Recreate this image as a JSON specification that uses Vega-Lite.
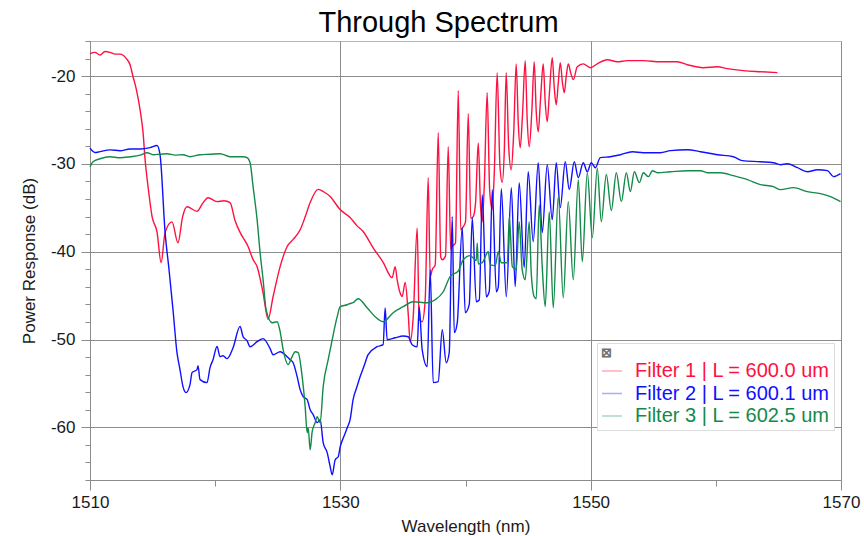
{
  "$schema": "https://vega.github.io/schema/vega-lite/v6.json",
  "width": 751,
  "height": 439,
  "autosize": {"type": "none"},
  "padding": {"left": 90, "top": 41, "right": 23, "bottom": 56},
  "background": "white",
  "title": {"text": "Through Spectrum", "font": "Liberation Sans", "fontSize": 29, "fontWeight": "normal", "color": "#000000", "anchor": "middle", "dx": -27, "dy": 10, "offset": 4},
  "config": {"view": {"stroke": "#b5b5b5", "strokeWidth": 1}, "font": "Liberation Sans"},
  "datasets": {
    "spec": [
      {"f": "Filter 1 | L = 600.0 um", "x": 1510.0, "y": -17.45},
      {"f": "Filter 1 | L = 600.0 um", "x": 1510.4, "y": -17.3},
      {"f": "Filter 1 | L = 600.0 um", "x": 1510.8, "y": -17.6},
      {"f": "Filter 1 | L = 600.0 um", "x": 1511.2, "y": -17.2},
      {"f": "Filter 1 | L = 600.0 um", "x": 1511.6, "y": -17.3},
      {"f": "Filter 1 | L = 600.0 um", "x": 1512.0, "y": -17.5},
      {"f": "Filter 1 | L = 600.0 um", "x": 1512.4, "y": -17.5},
      {"f": "Filter 1 | L = 600.0 um", "x": 1512.9, "y": -18.0},
      {"f": "Filter 1 | L = 600.0 um", "x": 1513.2, "y": -18.7},
      {"f": "Filter 1 | L = 600.0 um", "x": 1513.44, "y": -20.07},
      {"f": "Filter 1 | L = 600.0 um", "x": 1513.7, "y": -21.5},
      {"f": "Filter 1 | L = 600.0 um", "x": 1514.0, "y": -23.82},
      {"f": "Filter 1 | L = 600.0 um", "x": 1514.24, "y": -26.44},
      {"f": "Filter 1 | L = 600.0 um", "x": 1514.4, "y": -29.5},
      {"f": "Filter 1 | L = 600.0 um", "x": 1514.64, "y": -32.6},
      {"f": "Filter 1 | L = 600.0 um", "x": 1514.96, "y": -36.0},
      {"f": "Filter 1 | L = 600.0 um", "x": 1515.36, "y": -37.8},
      {"f": "Filter 1 | L = 600.0 um", "x": 1515.68, "y": -41.25},
      {"f": "Filter 1 | L = 600.0 um", "x": 1516.0, "y": -37.8},
      {"f": "Filter 1 | L = 600.0 um", "x": 1516.55, "y": -36.6},
      {"f": "Filter 1 | L = 600.0 um", "x": 1517.03, "y": -38.97},
      {"f": "Filter 1 | L = 600.0 um", "x": 1517.4, "y": -36.0},
      {"f": "Filter 1 | L = 600.0 um", "x": 1517.75, "y": -34.87},
      {"f": "Filter 1 | L = 600.0 um", "x": 1518.55, "y": -35.4},
      {"f": "Filter 1 | L = 600.0 um", "x": 1519.0, "y": -34.5},
      {"f": "Filter 1 | L = 600.0 um", "x": 1519.43, "y": -33.85},
      {"f": "Filter 1 | L = 600.0 um", "x": 1520.15, "y": -34.3},
      {"f": "Filter 1 | L = 600.0 um", "x": 1520.7, "y": -34.2},
      {"f": "Filter 1 | L = 600.0 um", "x": 1521.19, "y": -34.4},
      {"f": "Filter 1 | L = 600.0 um", "x": 1521.6, "y": -36.5},
      {"f": "Filter 1 | L = 600.0 um", "x": 1521.99, "y": -37.8},
      {"f": "Filter 1 | L = 600.0 um", "x": 1522.63, "y": -39.4},
      {"f": "Filter 1 | L = 600.0 um", "x": 1523.03, "y": -40.9},
      {"f": "Filter 1 | L = 600.0 um", "x": 1523.35, "y": -41.7},
      {"f": "Filter 1 | L = 600.0 um", "x": 1523.83, "y": -44.7},
      {"f": "Filter 1 | L = 600.0 um", "x": 1524.23, "y": -47.7},
      {"f": "Filter 1 | L = 600.0 um", "x": 1524.63, "y": -45.1},
      {"f": "Filter 1 | L = 600.0 um", "x": 1525.19, "y": -41.7},
      {"f": "Filter 1 | L = 600.0 um", "x": 1525.75, "y": -39.4},
      {"f": "Filter 1 | L = 600.0 um", "x": 1526.23, "y": -38.6},
      {"f": "Filter 1 | L = 600.0 um", "x": 1526.79, "y": -37.5},
      {"f": "Filter 1 | L = 600.0 um", "x": 1527.2, "y": -36.0},
      {"f": "Filter 1 | L = 600.0 um", "x": 1527.59, "y": -34.4},
      {"f": "Filter 1 | L = 600.0 um", "x": 1528.23, "y": -32.9},
      {"f": "Filter 1 | L = 600.0 um", "x": 1528.7, "y": -33.2},
      {"f": "Filter 1 | L = 600.0 um", "x": 1529.18, "y": -33.7},
      {"f": "Filter 1 | L = 600.0 um", "x": 1529.98, "y": -35.2},
      {"f": "Filter 1 | L = 600.0 um", "x": 1530.78, "y": -36.1},
      {"f": "Filter 1 | L = 600.0 um", "x": 1531.3, "y": -37.0},
      {"f": "Filter 1 | L = 600.0 um", "x": 1531.82, "y": -37.7},
      {"f": "Filter 1 | L = 600.0 um", "x": 1532.62, "y": -39.55},
      {"f": "Filter 1 | L = 600.0 um", "x": 1533.42, "y": -41.2},
      {"f": "Filter 1 | L = 600.0 um", "x": 1534.14, "y": -42.96},
      {"f": "Filter 1 | L = 600.0 um", "x": 1534.38, "y": -41.7},
      {"f": "Filter 1 | L = 600.0 um", "x": 1534.54, "y": -43.2},
      {"f": "Filter 1 | L = 600.0 um", "x": 1534.78, "y": -44.7},
      {"f": "Filter 1 | L = 600.0 um", "x": 1534.94, "y": -45.1},
      {"f": "Filter 1 | L = 600.0 um", "x": 1535.18, "y": -43.5},
      {"f": "Filter 1 | L = 600.0 um", "x": 1535.42, "y": -47.0},
      {"f": "Filter 1 | L = 600.0 um", "x": 1535.58, "y": -50.25},
      {"f": "Filter 1 | L = 600.0 um", "x": 1535.82, "y": -47.5},
      {"f": "Filter 1 | L = 600.0 um", "x": 1536.14, "y": -37.3},
      {"f": "Filter 1 | L = 600.0 um", "x": 1536.3, "y": -47.7},
      {"f": "Filter 1 | L = 600.0 um", "x": 1536.54, "y": -47.97},
      {"f": "Filter 1 | L = 600.0 um", "x": 1536.78, "y": -45.46},
      {"f": "Filter 1 | L = 600.0 um", "x": 1537.02, "y": -31.57},
      {"f": "Filter 1 | L = 600.0 um", "x": 1537.18, "y": -42.85},
      {"f": "Filter 1 | L = 600.0 um", "x": 1537.34, "y": -42.05},
      {"f": "Filter 1 | L = 600.0 um", "x": 1537.58, "y": -41.5},
      {"f": "Filter 1 | L = 600.0 um", "x": 1537.82, "y": -26.44},
      {"f": "Filter 1 | L = 600.0 um", "x": 1538.02, "y": -40.6},
      {"f": "Filter 1 | L = 600.0 um", "x": 1538.14, "y": -40.91},
      {"f": "Filter 1 | L = 600.0 um", "x": 1538.4, "y": -40.5},
      {"f": "Filter 1 | L = 600.0 um", "x": 1538.62, "y": -28.04},
      {"f": "Filter 1 | L = 600.0 um", "x": 1538.82, "y": -39.8},
      {"f": "Filter 1 | L = 600.0 um", "x": 1538.94, "y": -39.4},
      {"f": "Filter 1 | L = 600.0 um", "x": 1539.2, "y": -39.0},
      {"f": "Filter 1 | L = 600.0 um", "x": 1539.42, "y": -21.66},
      {"f": "Filter 1 | L = 600.0 um", "x": 1539.62, "y": -37.5},
      {"f": "Filter 1 | L = 600.0 um", "x": 1539.82, "y": -37.15},
      {"f": "Filter 1 | L = 600.0 um", "x": 1540.0, "y": -36.6},
      {"f": "Filter 1 | L = 600.0 um", "x": 1540.22, "y": -24.28},
      {"f": "Filter 1 | L = 600.0 um", "x": 1540.42, "y": -36.2},
      {"f": "Filter 1 | L = 600.0 um", "x": 1540.62, "y": -36.0},
      {"f": "Filter 1 | L = 600.0 um", "x": 1540.8, "y": -34.5},
      {"f": "Filter 1 | L = 600.0 um", "x": 1541.02, "y": -27.6},
      {"f": "Filter 1 | L = 600.0 um", "x": 1541.2, "y": -34.8},
      {"f": "Filter 1 | L = 600.0 um", "x": 1541.33, "y": -36.6},
      {"f": "Filter 1 | L = 600.0 um", "x": 1541.5, "y": -32.5},
      {"f": "Filter 1 | L = 600.0 um", "x": 1541.73, "y": -21.9},
      {"f": "Filter 1 | L = 600.0 um", "x": 1541.93, "y": -33.0},
      {"f": "Filter 1 | L = 600.0 um", "x": 1542.13, "y": -35.2},
      {"f": "Filter 1 | L = 600.0 um", "x": 1542.3, "y": -31.0},
      {"f": "Filter 1 | L = 600.0 um", "x": 1542.53, "y": -19.6},
      {"f": "Filter 1 | L = 600.0 um", "x": 1542.75, "y": -30.2},
      {"f": "Filter 1 | L = 600.0 um", "x": 1542.93, "y": -32.1},
      {"f": "Filter 1 | L = 600.0 um", "x": 1543.1, "y": -28.5},
      {"f": "Filter 1 | L = 600.0 um", "x": 1543.25, "y": -19.6},
      {"f": "Filter 1 | L = 600.0 um", "x": 1543.45, "y": -28.0},
      {"f": "Filter 1 | L = 600.0 um", "x": 1543.65, "y": -30.66},
      {"f": "Filter 1 | L = 600.0 um", "x": 1543.85, "y": -26.5},
      {"f": "Filter 1 | L = 600.0 um", "x": 1544.05, "y": -18.6},
      {"f": "Filter 1 | L = 600.0 um", "x": 1544.22, "y": -25.5},
      {"f": "Filter 1 | L = 600.0 um", "x": 1544.37, "y": -28.15},
      {"f": "Filter 1 | L = 600.0 um", "x": 1544.55, "y": -24.5},
      {"f": "Filter 1 | L = 600.0 um", "x": 1544.77, "y": -18.24},
      {"f": "Filter 1 | L = 600.0 um", "x": 1544.93, "y": -25.0},
      {"f": "Filter 1 | L = 600.0 um", "x": 1545.09, "y": -28.04},
      {"f": "Filter 1 | L = 600.0 um", "x": 1545.3, "y": -24.0},
      {"f": "Filter 1 | L = 600.0 um", "x": 1545.49, "y": -18.36},
      {"f": "Filter 1 | L = 600.0 um", "x": 1545.65, "y": -24.0},
      {"f": "Filter 1 | L = 600.0 um", "x": 1545.81, "y": -26.33},
      {"f": "Filter 1 | L = 600.0 um", "x": 1546.0, "y": -22.5},
      {"f": "Filter 1 | L = 600.0 um", "x": 1546.21, "y": -18.6},
      {"f": "Filter 1 | L = 600.0 um", "x": 1546.37, "y": -23.0},
      {"f": "Filter 1 | L = 600.0 um", "x": 1546.53, "y": -25.19},
      {"f": "Filter 1 | L = 600.0 um", "x": 1546.7, "y": -22.0},
      {"f": "Filter 1 | L = 600.0 um", "x": 1546.93, "y": -17.9},
      {"f": "Filter 1 | L = 600.0 um", "x": 1547.1, "y": -21.5},
      {"f": "Filter 1 | L = 600.0 um", "x": 1547.25, "y": -23.26},
      {"f": "Filter 1 | L = 600.0 um", "x": 1547.4, "y": -21.0},
      {"f": "Filter 1 | L = 600.0 um", "x": 1547.57, "y": -18.47},
      {"f": "Filter 1 | L = 600.0 um", "x": 1547.75, "y": -20.8},
      {"f": "Filter 1 | L = 600.0 um", "x": 1547.89, "y": -21.9},
      {"f": "Filter 1 | L = 600.0 um", "x": 1548.05, "y": -20.0},
      {"f": "Filter 1 | L = 600.0 um", "x": 1548.21, "y": -18.6},
      {"f": "Filter 1 | L = 600.0 um", "x": 1548.4, "y": -19.6},
      {"f": "Filter 1 | L = 600.0 um", "x": 1548.61, "y": -20.4},
      {"f": "Filter 1 | L = 600.0 um", "x": 1548.93, "y": -18.93},
      {"f": "Filter 1 | L = 600.0 um", "x": 1549.41, "y": -18.6},
      {"f": "Filter 1 | L = 600.0 um", "x": 1549.97, "y": -19.04},
      {"f": "Filter 1 | L = 600.0 um", "x": 1550.53, "y": -18.6},
      {"f": "Filter 1 | L = 600.0 um", "x": 1551.33, "y": -18.13},
      {"f": "Filter 1 | L = 600.0 um", "x": 1552.13, "y": -18.36},
      {"f": "Filter 1 | L = 600.0 um", "x": 1552.93, "y": -18.24},
      {"f": "Filter 1 | L = 600.0 um", "x": 1554.2, "y": -18.24},
      {"f": "Filter 1 | L = 600.0 um", "x": 1555.56, "y": -18.36},
      {"f": "Filter 1 | L = 600.0 um", "x": 1556.92, "y": -18.36},
      {"f": "Filter 1 | L = 600.0 um", "x": 1557.72, "y": -18.7},
      {"f": "Filter 1 | L = 600.0 um", "x": 1559.0, "y": -19.04},
      {"f": "Filter 1 | L = 600.0 um", "x": 1560.12, "y": -18.93},
      {"f": "Filter 1 | L = 600.0 um", "x": 1560.92, "y": -19.15},
      {"f": "Filter 1 | L = 600.0 um", "x": 1562.2, "y": -19.38},
      {"f": "Filter 1 | L = 600.0 um", "x": 1563.56, "y": -19.5},
      {"f": "Filter 1 | L = 600.0 um", "x": 1564.92, "y": -19.6},

      {"f": "Filter 2 | L = 600.1 um", "x": 1510.0, "y": -28.2},
      {"f": "Filter 2 | L = 600.1 um", "x": 1510.4, "y": -28.7},
      {"f": "Filter 2 | L = 600.1 um", "x": 1510.8, "y": -28.6},
      {"f": "Filter 2 | L = 600.1 um", "x": 1511.6, "y": -28.4},
      {"f": "Filter 2 | L = 600.1 um", "x": 1512.4, "y": -28.5},
      {"f": "Filter 2 | L = 600.1 um", "x": 1513.2, "y": -28.3},
      {"f": "Filter 2 | L = 600.1 um", "x": 1514.0, "y": -28.3},
      {"f": "Filter 2 | L = 600.1 um", "x": 1514.8, "y": -28.15},
      {"f": "Filter 2 | L = 600.1 um", "x": 1515.36, "y": -27.9},
      {"f": "Filter 2 | L = 600.1 um", "x": 1515.6, "y": -29.0},
      {"f": "Filter 2 | L = 600.1 um", "x": 1516.0, "y": -37.8},
      {"f": "Filter 2 | L = 600.1 um", "x": 1516.31, "y": -42.0},
      {"f": "Filter 2 | L = 600.1 um", "x": 1516.63, "y": -46.6},
      {"f": "Filter 2 | L = 600.1 um", "x": 1516.95, "y": -51.5},
      {"f": "Filter 2 | L = 600.1 um", "x": 1517.19, "y": -53.43},
      {"f": "Filter 2 | L = 600.1 um", "x": 1517.43, "y": -55.37},
      {"f": "Filter 2 | L = 600.1 um", "x": 1517.67, "y": -56.05},
      {"f": "Filter 2 | L = 600.1 um", "x": 1517.99, "y": -55.14},
      {"f": "Filter 2 | L = 600.1 um", "x": 1518.15, "y": -53.77},
      {"f": "Filter 2 | L = 600.1 um", "x": 1518.55, "y": -53.43},
      {"f": "Filter 2 | L = 600.1 um", "x": 1518.63, "y": -52.98},
      {"f": "Filter 2 | L = 600.1 um", "x": 1518.79, "y": -54.57},
      {"f": "Filter 2 | L = 600.1 um", "x": 1519.35, "y": -54.91},
      {"f": "Filter 2 | L = 600.1 um", "x": 1519.59, "y": -53.2},
      {"f": "Filter 2 | L = 600.1 um", "x": 1519.83, "y": -52.3},
      {"f": "Filter 2 | L = 600.1 um", "x": 1520.15, "y": -50.8},
      {"f": "Filter 2 | L = 600.1 um", "x": 1520.39, "y": -51.95},
      {"f": "Filter 2 | L = 600.1 um", "x": 1520.63, "y": -51.84},
      {"f": "Filter 2 | L = 600.1 um", "x": 1520.95, "y": -52.18},
      {"f": "Filter 2 | L = 600.1 um", "x": 1521.43, "y": -50.93},
      {"f": "Filter 2 | L = 600.1 um", "x": 1521.99, "y": -48.5},
      {"f": "Filter 2 | L = 600.1 um", "x": 1522.23, "y": -49.68},
      {"f": "Filter 2 | L = 600.1 um", "x": 1522.55, "y": -50.13},
      {"f": "Filter 2 | L = 600.1 um", "x": 1522.79, "y": -50.82},
      {"f": "Filter 2 | L = 600.1 um", "x": 1523.35, "y": -50.25},
      {"f": "Filter 2 | L = 600.1 um", "x": 1523.83, "y": -49.9},
      {"f": "Filter 2 | L = 600.1 um", "x": 1524.39, "y": -51.04},
      {"f": "Filter 2 | L = 600.1 um", "x": 1524.63, "y": -51.73},
      {"f": "Filter 2 | L = 600.1 um", "x": 1525.19, "y": -51.39},
      {"f": "Filter 2 | L = 600.1 um", "x": 1525.75, "y": -51.95},
      {"f": "Filter 2 | L = 600.1 um", "x": 1525.99, "y": -52.3},
      {"f": "Filter 2 | L = 600.1 um", "x": 1526.23, "y": -52.64},
      {"f": "Filter 2 | L = 600.1 um", "x": 1526.55, "y": -54.23},
      {"f": "Filter 2 | L = 600.1 um", "x": 1526.79, "y": -55.71},
      {"f": "Filter 2 | L = 600.1 um", "x": 1527.03, "y": -56.51},
      {"f": "Filter 2 | L = 600.1 um", "x": 1527.35, "y": -56.85},
      {"f": "Filter 2 | L = 600.1 um", "x": 1527.59, "y": -57.99},
      {"f": "Filter 2 | L = 600.1 um", "x": 1527.83, "y": -58.56},
      {"f": "Filter 2 | L = 600.1 um", "x": 1528.15, "y": -59.47},
      {"f": "Filter 2 | L = 600.1 um", "x": 1528.39, "y": -59.13},
      {"f": "Filter 2 | L = 600.1 um", "x": 1528.63, "y": -61.75},
      {"f": "Filter 2 | L = 600.1 um", "x": 1528.95, "y": -62.89},
      {"f": "Filter 2 | L = 600.1 um", "x": 1529.19, "y": -64.49},
      {"f": "Filter 2 | L = 600.1 um", "x": 1529.35, "y": -65.4},
      {"f": "Filter 2 | L = 600.1 um", "x": 1529.59, "y": -63.69},
      {"f": "Filter 2 | L = 600.1 um", "x": 1529.83, "y": -63.35},
      {"f": "Filter 2 | L = 600.1 um", "x": 1529.99, "y": -62.21},
      {"f": "Filter 2 | L = 600.1 um", "x": 1530.3, "y": -61.0},
      {"f": "Filter 2 | L = 600.1 um", "x": 1530.55, "y": -60.04},
      {"f": "Filter 2 | L = 600.1 um", "x": 1530.78, "y": -59.13},
      {"f": "Filter 2 | L = 600.1 um", "x": 1531.02, "y": -56.85},
      {"f": "Filter 2 | L = 600.1 um", "x": 1531.3, "y": -55.5},
      {"f": "Filter 2 | L = 600.1 um", "x": 1531.58, "y": -54.23},
      {"f": "Filter 2 | L = 600.1 um", "x": 1531.9, "y": -53.0},
      {"f": "Filter 2 | L = 600.1 um", "x": 1532.22, "y": -51.73},
      {"f": "Filter 2 | L = 600.1 um", "x": 1532.94, "y": -50.82},
      {"f": "Filter 2 | L = 600.1 um", "x": 1533.42, "y": -50.59},
      {"f": "Filter 2 | L = 600.1 um", "x": 1533.58, "y": -46.4},
      {"f": "Filter 2 | L = 600.1 um", "x": 1533.74, "y": -50.02},
      {"f": "Filter 2 | L = 600.1 um", "x": 1534.38, "y": -49.8},
      {"f": "Filter 2 | L = 600.1 um", "x": 1535.02, "y": -49.6},
      {"f": "Filter 2 | L = 600.1 um", "x": 1535.42, "y": -49.68},
      {"f": "Filter 2 | L = 600.1 um", "x": 1535.74, "y": -50.59},
      {"f": "Filter 2 | L = 600.1 um", "x": 1536.14, "y": -50.82},
      {"f": "Filter 2 | L = 600.1 um", "x": 1536.3, "y": -46.3},
      {"f": "Filter 2 | L = 600.1 um", "x": 1536.54, "y": -51.16},
      {"f": "Filter 2 | L = 600.1 um", "x": 1536.94, "y": -53.09},
      {"f": "Filter 2 | L = 600.1 um", "x": 1537.18, "y": -42.05},
      {"f": "Filter 2 | L = 600.1 um", "x": 1537.42, "y": -54.91},
      {"f": "Filter 2 | L = 600.1 um", "x": 1537.82, "y": -54.8},
      {"f": "Filter 2 | L = 600.1 um", "x": 1538.14, "y": -48.88},
      {"f": "Filter 2 | L = 600.1 um", "x": 1538.46, "y": -52.64},
      {"f": "Filter 2 | L = 600.1 um", "x": 1538.7, "y": -51.5},
      {"f": "Filter 2 | L = 600.1 um", "x": 1538.94, "y": -36.0},
      {"f": "Filter 2 | L = 600.1 um", "x": 1539.1, "y": -49.22},
      {"f": "Filter 2 | L = 600.1 um", "x": 1539.34, "y": -48.1},
      {"f": "Filter 2 | L = 600.1 um", "x": 1539.74, "y": -37.26},
      {"f": "Filter 2 | L = 600.1 um", "x": 1539.98, "y": -46.95},
      {"f": "Filter 2 | L = 600.1 um", "x": 1540.3, "y": -46.0},
      {"f": "Filter 2 | L = 600.1 um", "x": 1540.54, "y": -36.12},
      {"f": "Filter 2 | L = 600.1 um", "x": 1540.86, "y": -45.69},
      {"f": "Filter 2 | L = 600.1 um", "x": 1541.1, "y": -45.5},
      {"f": "Filter 2 | L = 600.1 um", "x": 1541.34, "y": -33.5},
      {"f": "Filter 2 | L = 600.1 um", "x": 1541.66, "y": -45.13},
      {"f": "Filter 2 | L = 600.1 um", "x": 1541.9, "y": -44.5},
      {"f": "Filter 2 | L = 600.1 um", "x": 1542.14, "y": -32.93},
      {"f": "Filter 2 | L = 600.1 um", "x": 1542.46, "y": -44.56},
      {"f": "Filter 2 | L = 600.1 um", "x": 1542.62, "y": -44.0},
      {"f": "Filter 2 | L = 600.1 um", "x": 1542.86, "y": -32.82},
      {"f": "Filter 2 | L = 600.1 um", "x": 1543.26, "y": -45.13},
      {"f": "Filter 2 | L = 600.1 um", "x": 1543.66, "y": -32.71},
      {"f": "Filter 2 | L = 600.1 um", "x": 1543.97, "y": -43.98},
      {"f": "Filter 2 | L = 600.1 um", "x": 1544.29, "y": -32.13},
      {"f": "Filter 2 | L = 600.1 um", "x": 1544.69, "y": -41.82},
      {"f": "Filter 2 | L = 600.1 um", "x": 1545.01, "y": -30.89},
      {"f": "Filter 2 | L = 600.1 um", "x": 1545.41, "y": -38.86},
      {"f": "Filter 2 | L = 600.1 um", "x": 1545.81, "y": -29.86},
      {"f": "Filter 2 | L = 600.1 um", "x": 1546.13, "y": -37.83},
      {"f": "Filter 2 | L = 600.1 um", "x": 1546.53, "y": -30.09},
      {"f": "Filter 2 | L = 600.1 um", "x": 1546.93, "y": -36.35},
      {"f": "Filter 2 | L = 600.1 um", "x": 1547.25, "y": -29.86},
      {"f": "Filter 2 | L = 600.1 um", "x": 1547.57, "y": -34.98},
      {"f": "Filter 2 | L = 600.1 um", "x": 1547.97, "y": -29.75},
      {"f": "Filter 2 | L = 600.1 um", "x": 1548.29, "y": -32.93},
      {"f": "Filter 2 | L = 600.1 um", "x": 1548.69, "y": -29.75},
      {"f": "Filter 2 | L = 600.1 um", "x": 1549.01, "y": -31.57},
      {"f": "Filter 2 | L = 600.1 um", "x": 1549.41, "y": -29.86},
      {"f": "Filter 2 | L = 600.1 um", "x": 1549.73, "y": -30.89},
      {"f": "Filter 2 | L = 600.1 um", "x": 1550.05, "y": -29.86},
      {"f": "Filter 2 | L = 600.1 um", "x": 1550.37, "y": -30.43},
      {"f": "Filter 2 | L = 600.1 um", "x": 1550.77, "y": -29.29},
      {"f": "Filter 2 | L = 600.1 um", "x": 1551.57, "y": -29.18},
      {"f": "Filter 2 | L = 600.1 um", "x": 1552.37, "y": -28.95},
      {"f": "Filter 2 | L = 600.1 um", "x": 1553.33, "y": -28.61},
      {"f": "Filter 2 | L = 600.1 um", "x": 1554.21, "y": -28.72},
      {"f": "Filter 2 | L = 600.1 um", "x": 1555.57, "y": -28.72},
      {"f": "Filter 2 | L = 600.1 um", "x": 1556.37, "y": -28.49},
      {"f": "Filter 2 | L = 600.1 um", "x": 1557.73, "y": -28.38},
      {"f": "Filter 2 | L = 600.1 um", "x": 1558.77, "y": -28.61},
      {"f": "Filter 2 | L = 600.1 um", "x": 1560.12, "y": -28.95},
      {"f": "Filter 2 | L = 600.1 um", "x": 1561.4, "y": -29.18},
      {"f": "Filter 2 | L = 600.1 um", "x": 1562.12, "y": -29.63},
      {"f": "Filter 2 | L = 600.1 um", "x": 1563.56, "y": -29.75},
      {"f": "Filter 2 | L = 600.1 um", "x": 1564.6, "y": -29.86},
      {"f": "Filter 2 | L = 600.1 um", "x": 1565.16, "y": -30.09},
      {"f": "Filter 2 | L = 600.1 um", "x": 1565.72, "y": -29.98},
      {"f": "Filter 2 | L = 600.1 um", "x": 1566.52, "y": -30.43},
      {"f": "Filter 2 | L = 600.1 um", "x": 1567.32, "y": -30.89},
      {"f": "Filter 2 | L = 600.1 um", "x": 1568.12, "y": -30.66},
      {"f": "Filter 2 | L = 600.1 um", "x": 1568.92, "y": -30.77},
      {"f": "Filter 2 | L = 600.1 um", "x": 1569.4, "y": -31.45},
      {"f": "Filter 2 | L = 600.1 um", "x": 1569.96, "y": -31.11},

      {"f": "Filter 3 | L = 602.5 um", "x": 1510.0, "y": -30.32},
      {"f": "Filter 3 | L = 602.5 um", "x": 1510.24, "y": -29.75},
      {"f": "Filter 3 | L = 602.5 um", "x": 1510.8, "y": -29.41},
      {"f": "Filter 3 | L = 602.5 um", "x": 1511.6, "y": -29.18},
      {"f": "Filter 3 | L = 602.5 um", "x": 1512.4, "y": -29.3},
      {"f": "Filter 3 | L = 602.5 um", "x": 1513.2, "y": -29.18},
      {"f": "Filter 3 | L = 602.5 um", "x": 1514.0, "y": -29.0},
      {"f": "Filter 3 | L = 602.5 um", "x": 1514.56, "y": -28.72},
      {"f": "Filter 3 | L = 602.5 um", "x": 1515.04, "y": -28.95},
      {"f": "Filter 3 | L = 602.5 um", "x": 1515.6, "y": -28.9},
      {"f": "Filter 3 | L = 602.5 um", "x": 1516.16, "y": -28.84},
      {"f": "Filter 3 | L = 602.5 um", "x": 1516.8, "y": -29.0},
      {"f": "Filter 3 | L = 602.5 um", "x": 1517.43, "y": -28.95},
      {"f": "Filter 3 | L = 602.5 um", "x": 1517.99, "y": -29.18},
      {"f": "Filter 3 | L = 602.5 um", "x": 1518.79, "y": -28.95},
      {"f": "Filter 3 | L = 602.5 um", "x": 1519.6, "y": -28.9},
      {"f": "Filter 3 | L = 602.5 um", "x": 1520.39, "y": -28.84},
      {"f": "Filter 3 | L = 602.5 um", "x": 1521.19, "y": -29.18},
      {"f": "Filter 3 | L = 602.5 um", "x": 1522.23, "y": -29.18},
      {"f": "Filter 3 | L = 602.5 um", "x": 1522.55, "y": -29.29},
      {"f": "Filter 3 | L = 602.5 um", "x": 1522.79, "y": -29.86},
      {"f": "Filter 3 | L = 602.5 um", "x": 1523.03, "y": -32.59},
      {"f": "Filter 3 | L = 602.5 um", "x": 1523.35, "y": -36.35},
      {"f": "Filter 3 | L = 602.5 um", "x": 1523.59, "y": -40.11},
      {"f": "Filter 3 | L = 602.5 um", "x": 1523.83, "y": -43.2},
      {"f": "Filter 3 | L = 602.5 um", "x": 1524.07, "y": -46.6},
      {"f": "Filter 3 | L = 602.5 um", "x": 1524.55, "y": -48.09},
      {"f": "Filter 3 | L = 602.5 um", "x": 1524.95, "y": -47.97},
      {"f": "Filter 3 | L = 602.5 um", "x": 1525.19, "y": -49.1},
      {"f": "Filter 3 | L = 602.5 um", "x": 1525.43, "y": -51.16},
      {"f": "Filter 3 | L = 602.5 um", "x": 1525.83, "y": -52.86},
      {"f": "Filter 3 | L = 602.5 um", "x": 1526.15, "y": -51.95},
      {"f": "Filter 3 | L = 602.5 um", "x": 1526.39, "y": -51.39},
      {"f": "Filter 3 | L = 602.5 um", "x": 1526.63, "y": -51.5},
      {"f": "Filter 3 | L = 602.5 um", "x": 1526.95, "y": -54.23},
      {"f": "Filter 3 | L = 602.5 um", "x": 1527.19, "y": -57.65},
      {"f": "Filter 3 | L = 602.5 um", "x": 1527.35, "y": -60.61},
      {"f": "Filter 3 | L = 602.5 um", "x": 1527.43, "y": -60.04},
      {"f": "Filter 3 | L = 602.5 um", "x": 1527.59, "y": -62.55},
      {"f": "Filter 3 | L = 602.5 um", "x": 1527.75, "y": -60.5},
      {"f": "Filter 3 | L = 602.5 um", "x": 1527.99, "y": -59.47},
      {"f": "Filter 3 | L = 602.5 um", "x": 1528.15, "y": -58.79},
      {"f": "Filter 3 | L = 602.5 um", "x": 1528.39, "y": -59.47},
      {"f": "Filter 3 | L = 602.5 um", "x": 1528.63, "y": -55.37},
      {"f": "Filter 3 | L = 602.5 um", "x": 1529.03, "y": -52.3},
      {"f": "Filter 3 | L = 602.5 um", "x": 1529.35, "y": -50.02},
      {"f": "Filter 3 | L = 602.5 um", "x": 1529.75, "y": -47.4},
      {"f": "Filter 3 | L = 602.5 um", "x": 1529.99, "y": -46.26},
      {"f": "Filter 3 | L = 602.5 um", "x": 1530.55, "y": -46.04},
      {"f": "Filter 3 | L = 602.5 um", "x": 1530.78, "y": -45.9},
      {"f": "Filter 3 | L = 602.5 um", "x": 1531.02, "y": -45.81},
      {"f": "Filter 3 | L = 602.5 um", "x": 1531.42, "y": -45.35},
      {"f": "Filter 3 | L = 602.5 um", "x": 1532.14, "y": -46.38},
      {"f": "Filter 3 | L = 602.5 um", "x": 1532.78, "y": -47.4},
      {"f": "Filter 3 | L = 602.5 um", "x": 1533.42, "y": -47.97},
      {"f": "Filter 3 | L = 602.5 um", "x": 1534.22, "y": -46.95},
      {"f": "Filter 3 | L = 602.5 um", "x": 1535.02, "y": -46.26},
      {"f": "Filter 3 | L = 602.5 um", "x": 1535.82, "y": -45.69},
      {"f": "Filter 3 | L = 602.5 um", "x": 1536.94, "y": -45.81},
      {"f": "Filter 3 | L = 602.5 um", "x": 1537.58, "y": -45.47},
      {"f": "Filter 3 | L = 602.5 um", "x": 1538.22, "y": -44.56},
      {"f": "Filter 3 | L = 602.5 um", "x": 1538.78, "y": -42.8},
      {"f": "Filter 3 | L = 602.5 um", "x": 1539.42, "y": -42.2},
      {"f": "Filter 3 | L = 602.5 um", "x": 1539.82, "y": -40.91},
      {"f": "Filter 3 | L = 602.5 um", "x": 1540.38, "y": -40.45},
      {"f": "Filter 3 | L = 602.5 um", "x": 1540.86, "y": -41.0},
      {"f": "Filter 3 | L = 602.5 um", "x": 1540.94, "y": -39.0},
      {"f": "Filter 3 | L = 602.5 um", "x": 1541.02, "y": -41.4},
      {"f": "Filter 3 | L = 602.5 um", "x": 1541.34, "y": -41.25},
      {"f": "Filter 3 | L = 602.5 um", "x": 1541.82, "y": -40.0},
      {"f": "Filter 3 | L = 602.5 um", "x": 1541.98, "y": -41.5},
      {"f": "Filter 3 | L = 602.5 um", "x": 1542.38, "y": -41.59},
      {"f": "Filter 3 | L = 602.5 um", "x": 1542.62, "y": -40.0},
      {"f": "Filter 3 | L = 602.5 um", "x": 1542.86, "y": -41.25},
      {"f": "Filter 3 | L = 602.5 um", "x": 1543.34, "y": -41.25},
      {"f": "Filter 3 | L = 602.5 um", "x": 1543.5, "y": -36.01},
      {"f": "Filter 3 | L = 602.5 um", "x": 1543.74, "y": -41.7},
      {"f": "Filter 3 | L = 602.5 um", "x": 1544.05, "y": -42.05},
      {"f": "Filter 3 | L = 602.5 um", "x": 1544.29, "y": -36.58},
      {"f": "Filter 3 | L = 602.5 um", "x": 1544.53, "y": -42.05},
      {"f": "Filter 3 | L = 602.5 um", "x": 1544.77, "y": -43.19},
      {"f": "Filter 3 | L = 602.5 um", "x": 1545.09, "y": -36.58},
      {"f": "Filter 3 | L = 602.5 um", "x": 1545.25, "y": -42.39},
      {"f": "Filter 3 | L = 602.5 um", "x": 1545.49, "y": -45.13},
      {"f": "Filter 3 | L = 602.5 um", "x": 1545.65, "y": -45.35},
      {"f": "Filter 3 | L = 602.5 um", "x": 1545.89, "y": -34.64},
      {"f": "Filter 3 | L = 602.5 um", "x": 1546.13, "y": -41.7},
      {"f": "Filter 3 | L = 602.5 um", "x": 1546.37, "y": -46.26},
      {"f": "Filter 3 | L = 602.5 um", "x": 1546.69, "y": -35.44},
      {"f": "Filter 3 | L = 602.5 um", "x": 1547.01, "y": -46.38},
      {"f": "Filter 3 | L = 602.5 um", "x": 1547.41, "y": -33.73},
      {"f": "Filter 3 | L = 602.5 um", "x": 1547.81, "y": -45.24},
      {"f": "Filter 3 | L = 602.5 um", "x": 1548.21, "y": -34.3},
      {"f": "Filter 3 | L = 602.5 um", "x": 1548.61, "y": -43.19},
      {"f": "Filter 3 | L = 602.5 um", "x": 1549.01, "y": -31.79},
      {"f": "Filter 3 | L = 602.5 um", "x": 1549.33, "y": -41.14},
      {"f": "Filter 3 | L = 602.5 um", "x": 1549.73, "y": -31.0},
      {"f": "Filter 3 | L = 602.5 um", "x": 1550.13, "y": -38.4},
      {"f": "Filter 3 | L = 602.5 um", "x": 1550.53, "y": -30.5},
      {"f": "Filter 3 | L = 602.5 um", "x": 1550.85, "y": -36.58},
      {"f": "Filter 3 | L = 602.5 um", "x": 1551.25, "y": -31.2},
      {"f": "Filter 3 | L = 602.5 um", "x": 1551.65, "y": -35.3},
      {"f": "Filter 3 | L = 602.5 um", "x": 1552.05, "y": -31.0},
      {"f": "Filter 3 | L = 602.5 um", "x": 1552.45, "y": -34.3},
      {"f": "Filter 3 | L = 602.5 um", "x": 1552.85, "y": -31.0},
      {"f": "Filter 3 | L = 602.5 um", "x": 1553.17, "y": -33.16},
      {"f": "Filter 3 | L = 602.5 um", "x": 1553.49, "y": -30.89},
      {"f": "Filter 3 | L = 602.5 um", "x": 1553.89, "y": -32.13},
      {"f": "Filter 3 | L = 602.5 um", "x": 1554.21, "y": -31.0},
      {"f": "Filter 3 | L = 602.5 um", "x": 1554.61, "y": -31.45},
      {"f": "Filter 3 | L = 602.5 um", "x": 1554.93, "y": -30.77},
      {"f": "Filter 3 | L = 602.5 um", "x": 1555.33, "y": -31.0},
      {"f": "Filter 3 | L = 602.5 um", "x": 1556.37, "y": -30.89},
      {"f": "Filter 3 | L = 602.5 um", "x": 1557.73, "y": -30.77},
      {"f": "Filter 3 | L = 602.5 um", "x": 1558.77, "y": -30.77},
      {"f": "Filter 3 | L = 602.5 um", "x": 1559.32, "y": -31.0},
      {"f": "Filter 3 | L = 602.5 um", "x": 1560.36, "y": -31.0},
      {"f": "Filter 3 | L = 602.5 um", "x": 1561.4, "y": -31.34},
      {"f": "Filter 3 | L = 602.5 um", "x": 1562.52, "y": -31.79},
      {"f": "Filter 3 | L = 602.5 um", "x": 1563.56, "y": -32.36},
      {"f": "Filter 3 | L = 602.5 um", "x": 1564.6, "y": -32.59},
      {"f": "Filter 3 | L = 602.5 um", "x": 1565.16, "y": -32.93},
      {"f": "Filter 3 | L = 602.5 um", "x": 1566.2, "y": -32.7},
      {"f": "Filter 3 | L = 602.5 um", "x": 1567.32, "y": -33.16},
      {"f": "Filter 3 | L = 602.5 um", "x": 1568.36, "y": -33.39},
      {"f": "Filter 3 | L = 602.5 um", "x": 1569.16, "y": -33.73},
      {"f": "Filter 3 | L = 602.5 um", "x": 1569.96, "y": -34.3}
    ]
  },
  "data": {"name": "spec"},
  "mark": {"type": "line", "strokeWidth": 1.4, "interpolate": "monotone"},
  "encoding": {
    "x": {
      "field": "x", "type": "quantitative",
      "scale": {"domain": [1510, 1570], "nice": false, "zero": false},
      "axis": {
        "values": [1510, 1520, 1530, 1540, 1550, 1560, 1570],
        "format": "d",
        "labelExpr": "datum.value % 20 === 10 ? datum.label : ''",
        "labelFlush": false,
        "labelOverlap": false,
        "labelFont": "Liberation Sans",
        "labelFontSize": 17,
        "labelColor": "#1a1a1a",
        "labelPadding": 4,
        "grid": true,
        "gridColor": "#8c8c8c",
        "gridOpacity": {"condition": {"test": "datum.value % 20 === 10", "value": 1}, "value": 0},
        "tickColor": "#8c8c8c",
        "tickSize": {"condition": {"test": "datum.value % 20 === 10", "value": 10}, "value": 6},
        "domainColor": "#8c8c8c",
        "title": "Wavelength (nm)",
        "titleFont": "Liberation Sans",
        "titleFontSize": 17,
        "titleFontWeight": "normal",
        "titleColor": "#1a1a1a",
        "titlePadding": 8
      }
    },
    "y": {
      "field": "y", "type": "quantitative",
      "scale": {"domain": [-66, -16], "nice": false, "zero": false},
      "axis": {
        "values": [-66, -64, -62, -60, -58, -56, -54, -52, -50, -48, -46, -44, -42, -40, -38, -36, -34, -32, -30, -28, -26, -24, -22, -20, -18, -16],
        "labelExpr": "datum.value % 10 === 0 ? '' + datum.value : ''",
        "labelOverlap": false,
        "labelFlush": false,
        "labelFont": "Liberation Sans",
        "labelFontSize": 17,
        "labelColor": "#1a1a1a",
        "labelPadding": 6,
        "grid": true,
        "gridColor": "#8c8c8c",
        "gridOpacity": {"condition": {"test": "datum.value % 10 === 0", "value": 1}, "value": 0},
        "tickColor": "#8c8c8c",
        "tickSize": {"condition": {"test": "datum.value % 10 === 0", "value": 9}, "value": 5},
        "domainColor": "#8c8c8c",
        "title": "Power Response (dB)",
        "titleFont": "Liberation Sans",
        "titleFontSize": 17,
        "titleFontWeight": "normal",
        "titleColor": "#1a1a1a",
        "titlePadding": 12
      }
    },
    "color": {
      "field": "f", "type": "nominal",
      "scale": {
        "domain": ["Filter 1 | L = 600.0 um", "Filter 2 | L = 600.1 um", "Filter 3 | L = 602.5 um"],
        "range": ["#ff1040", "#1010ff", "#148a4a"]
      },
      "legend": {
        "orient": "none",
        "legendX": 507,
        "legendY": 302,
        "title": "⊠",
        "titleColor": "#707070",
        "titleFontSize": 13,
        "titleFontWeight": "bold",
        "titlePadding": 0,
        "labelFont": "Liberation Sans",
        "labelFontSize": 20,
        "labelOffset": 12,
        "labelLimit": 400,
        "symbolType": "stroke",
        "symbolSize": 400,
        "symbolStrokeWidth": 1.5,
        "symbolOpacity": 0.35,
        "rowPadding": 1.5,
        "padding": 4,
        "fillColor": "white",
        "strokeColor": "#dcdcdc",
        "encode": {"labels": {"update": {"fill": {"scale": "color", "field": "value"}}}}
      }
    }
  }
}
